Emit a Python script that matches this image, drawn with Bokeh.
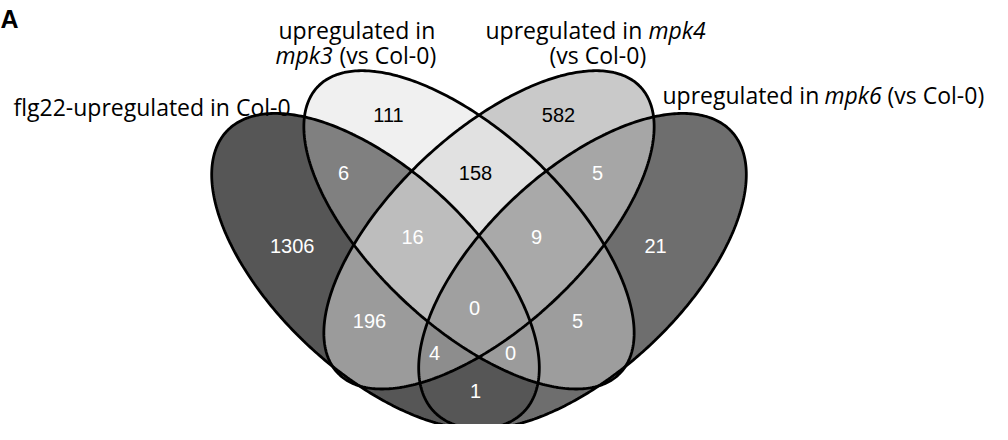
import numpy as np
from bokeh.plotting import figure
from bokeh.models import Range1d, ColumnDataSource
from bokeh.core.properties import value
from bokeh.embed import file_html
from bokeh.resources import INLINE

# ---------------- data ----------------
set_keys = ["A", "B", "C", "D"]
set_names = ["flg22-upregulated in Col-0",
             "upregulated in mpk3 (vs Col-0)",
             "upregulated in mpk4 (vs Col-0)",
             "upregulated in mpk6 (vs Col-0)"]
region_keys = ["A", "B", "C", "D", "AB", "AC", "AD", "BC", "BD", "CD",
               "ABC", "ABD", "ACD", "BCD", "ABCD"]
region_counts = [1306, 111, 582, 21, 6, 196, 1, 158, 5, 5, 16, 0, 4, 9, 0]

# ---------------- layout / style ----------------
# ellipse geometry (cx, cy, semi-major, semi-minor, angle in screen coords, deg)
ell_geom = {
    "A": (375.0, 281.0, 208.0, 102.0, 45.0),
    "B": (468.5, 238.0, 212.0, 98.0, 45.0),
    "C": (488.5, 238.0, 212.0, 98.0, -45.0),
    "D": (582.0, 281.0, 208.0, 102.0, -45.0),
}
region_fill = {
    "A": "#565656", "B": "#f0f0f0", "C": "#c9c9c9", "D": "#6e6e6e",
    "AB": "#808080", "AC": "#9b9b9b", "AD": "#565656", "BC": "#e1e1e1",
    "BD": "#9d9d9d", "CD": "#a6a6a6", "ABC": "#bdbdbd", "ABD": "#9b9b9b",
    "ACD": "#8d8d8d", "BCD": "#a9a9a9", "ABCD": "#a0a0a0",
}
label_pos = {
    "A": (291.7, 255), "B": (388, 119), "C": (558, 119), "D": (655, 255),
    "AB": (343, 179), "AC": (369, 333), "AD": (475, 405), "BC": (475, 179),
    "BD": (577, 333), "CD": (597, 179), "ABC": (412, 245), "ABD": (510, 366),
    "ACD": (434, 366), "BCD": (536, 245), "ABCD": (474, 319),
}
dark_text = {"B", "C", "BC"}


def ellipse_poly(cx, cy, a, b, ang, n=400):
    t = np.linspace(0, 2 * np.pi, n, endpoint=False)
    th = np.deg2rad(ang)
    x = cx + a * np.cos(t) * np.cos(th) - b * np.sin(t) * np.sin(th)
    y = cy + a * np.cos(t) * np.sin(th) + b * np.sin(t) * np.cos(th)
    return np.column_stack([x, y])


def signed_area(P):
    x, y = P[:, 0], P[:, 1]
    return 0.5 * np.sum(x * np.roll(y, -1) - np.roll(x, -1) * y)


def clip(subject, clipper):
    s = np.sign(signed_area(clipper))
    out = [tuple(p) for p in subject]
    m = len(clipper)
    for i in range(m):
        if not out:
            break
        p1 = clipper[i]
        p2 = clipper[(i + 1) % m]
        ex, ey = p2[0] - p1[0], p2[1] - p1[1]

        def side(q):
            return ex * (q[1] - p1[1]) - ey * (q[0] - p1[0])

        def inter(q1, q2):
            c1, c2 = side(q1), side(q2)
            tt = c1 / (c1 - c2)
            return (q1[0] + tt * (q2[0] - q1[0]), q1[1] + tt * (q2[1] - q1[1]))

        inp = out
        out = []
        prev = inp[-1]
        for cur in inp:
            if s * side(cur) >= 0:
                if s * side(prev) < 0:
                    out.append(inter(prev, cur))
                out.append(cur)
            elif s * side(prev) >= 0:
                out.append(inter(prev, cur))
            prev = cur
    return np.array(out) if out else None


polys = {k: ellipse_poly(*ell_geom[k]) for k in set_keys}

order = sorted(range(len(region_keys)), key=lambda i: len(region_keys[i]))
xs, ys, cols = [], [], []
for i in order:
    key = region_keys[i]
    P = polys[key[0]]
    for k in key[1:]:
        P = clip(P, polys[k])
        if P is None:
            break
    if P is None:
        continue
    xs.append(list(P[:, 0]))
    ys.append(list(P[:, 1]))
    cols.append(region_fill[key])

p = figure(width=992, height=424, output_backend="svg", toolbar_location=None,
           x_range=Range1d(0, 992), y_range=Range1d(440, 0),
           min_border=0)
p.axis.visible = False
p.grid.visible = False
p.outline_line_color = None
p.background_fill_color = "white"

p.patches(xs=xs, ys=ys, fill_color=cols, line_color=None)

# outlines
p.patches(xs=[list(polys[k][:, 0]) for k in set_keys],
          ys=[list(polys[k][:, 1]) for k in set_keys],
          fill_color=None, line_color="black", line_width=2.8)

# region counts
src = ColumnDataSource(dict(
    x=[label_pos[k][0] for k in region_keys],
    y=[label_pos[k][1] for k in region_keys],
    t=[str(c) for c in region_counts],
    c=["black" if k in dark_text else "white" for k in region_keys],
))
p.text(x="x", y="y", text="t", text_color="c", source=src,
       text_font=value("Liberation Sans"), text_font_size="20px",
       text_align="center", text_baseline="middle")

# set labels (pieces: text, x, baseline y, italic)
set_label_pieces = [
    ("flg22-upregulated in Col-0", 13, 110, False),
    ("upregulated in", 278, 31, False),
    ("mpk3", 275, 57, True),
    ("(vs Col-0)", 339, 57, False),
    ("upregulated in", 485, 31, False),
    ("mpk4", 648, 31, True),
    ("(vs Col-0)", 549, 57, False),
    ("upregulated in", 662, 98, False),
    ("mpk6", 824, 98, True),
    ("(vs Col-0)", 887, 98, False),
]
for txt, x, y, it in set_label_pieces:
    p.text(x=[x], y=[y], text=[txt], text_font=value("Open Sans"),
           text_font_size="23px", text_color="black",
           text_font_style="italic" if it else "normal",
           text_align="left", text_baseline="alphabetic")

# panel letter
p.text(x=[0], y=[19], text=["A"], text_font=value("Liberation Sans"),
       text_font_size="25px", text_font_style="bold", text_color="black",
       text_align="left", text_baseline="alphabetic")

open("out.html", "w").write(file_html(p, INLINE))
